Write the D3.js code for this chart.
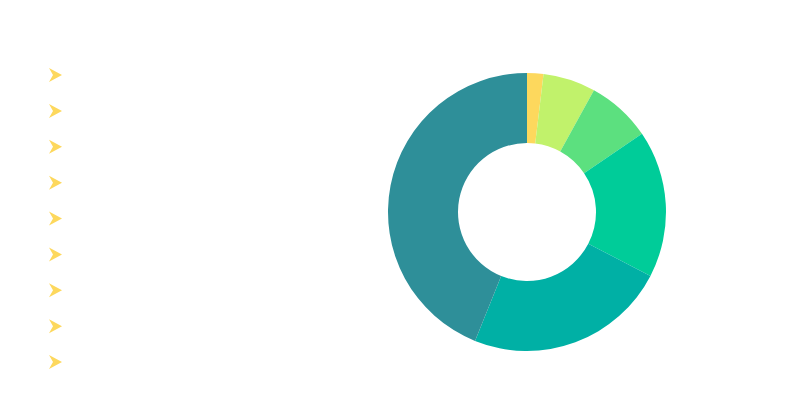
<!DOCTYPE html>
<html><head><meta charset="utf-8">
<script src="https://cdn.jsdelivr.net/npm/d3@7"></script>
<style>body{margin:0;background:#fff}</style>
</head><body><div id="chart"></div>
<script>
// slice values (share of the ring) and colours
var values = [1.9, 6.1, 7.5, 17.1, 23.5, 43.9],
    colors = ["#fdd85d", "#c1f26b", "#5ce07f", "#00cc99", "#00b0a5", "#2e8f99"],
    markers = [0, 1, 2, 3, 4, 5, 6, 7, 8];

var w = 810, h = 416,
    svg = d3.select("#chart").append("svg").attr("width", w).attr("height", h);

// legend markers on the left (no labels in the source)
var y = d3.scaleLinear().domain([0, 8]).range([75, 362]);
svg.selectAll("path.mark")
    .data(markers)
    .enter().append("path")
    .attr("class", "mark")
    .attr("transform", function(d) { return "translate(49," + y(d) + ")"; })
    .attr("d", "M0,-7 L13,0 L0,7 L4,0 Z")
    .attr("fill", "#fdd85d");

// donut
var pie = d3.pie().sort(null),
    arc = d3.arc().innerRadius(69).outerRadius(139);
svg.append("g")
    .attr("transform", "translate(527,212)")
    .selectAll("path")
    .data(pie(values))
    .enter().append("path")
    .attr("d", arc)
    .attr("fill", function(d, i) { return colors[i]; });
</script>
</body></html>
